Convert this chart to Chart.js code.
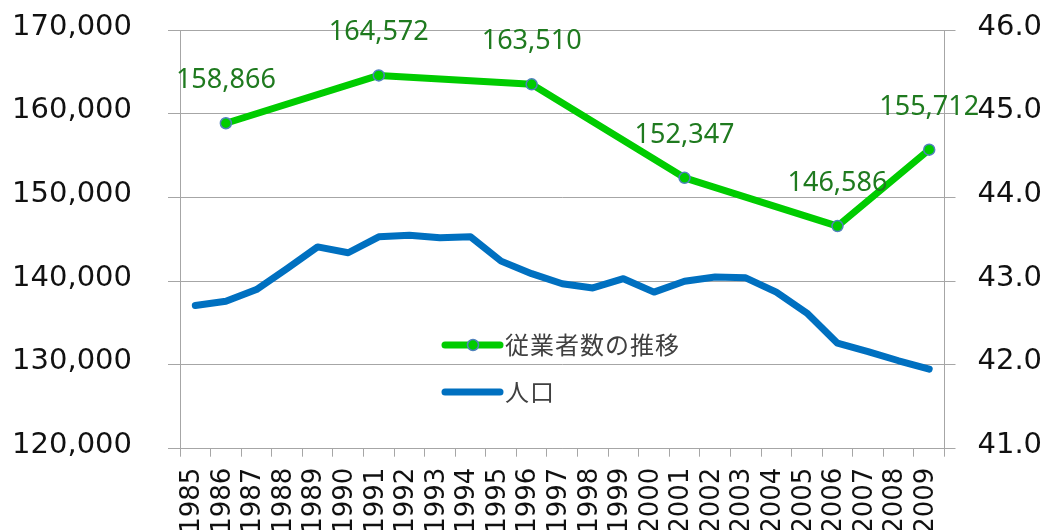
<!DOCTYPE html>
<html>
<head>
<meta charset="utf-8">
<script src="https://cdn.jsdelivr.net/npm/chart.js@4"></script>
<style>
    html, body { margin: 0; padding: 0; background: #fff; }
    #wrap { width: 1050px; height: 530px; }
</style>
</head>
<body>
<div id="wrap"><canvas id="chart" width="1050" height="530"></canvas></div>
<script>
// Data
const years = ['1985', '1986', '1987', '1988', '1989', '1990', '1991', '1992', '1993', '1994',
    '1995', '1996', '1997', '1998', '1999', '2000', '2001', '2002', '2003', '2004',
    '2005', '2006', '2007', '2008', '2009'];

// 従業者数 (left axis) - census years only
const workers = [null, 158866, null, null, null, null, 164572, null, null, null,
    null, 163510, null, null, null, null, 152347, null, null, null,
    null, 146586, null, null, 155712];

// 人口 (right axis)
const population = [42.71, 42.76, 42.90, 43.15, 43.41, 43.34, 43.53, 43.55, 43.52, 43.53,
    43.24, 43.09, 42.97, 42.92, 43.03, 42.87, 43.00, 43.05, 43.04, 42.87,
    42.62, 42.26, 42.16, 42.05, 41.95];

const seriesNames = ['従業者数の推移', '人口'];
const leftTicks = [120000, 130000, 140000, 150000, 160000, 170000];
const rightTicks = [41, 42, 43, 44, 45, 46];

const GREEN = '#00cc00';
const BLUE = '#0070c0';
const GRID = '#a6a6a6';
const LABEL_GREEN = '#1f7a1f';

// Value labels above the green points
const valueLabels = {
    id: 'valueLabels',
    afterDatasetsDraw(chart) {
        const ctx = chart.ctx;
        const meta = chart.getDatasetMeta(0);
        ctx.save();
        ctx.font = '27px "Noto Sans"';
        ctx.fillStyle = LABEL_GREEN;
        ctx.textAlign = 'center';
        ctx.textBaseline = 'alphabetic';
        meta.data.forEach((pt, i) => {
            const v = workers[i];
            if (v === null) return;
            ctx.fillText(v.toLocaleString('en-US'), pt.x, pt.y - 35);
        });
        ctx.restore();
    }
};

// Legend drawn inside the plot area
const innerLegend = {
    id: 'innerLegend',
    afterDraw(chart) {
        const ctx = chart.ctx;
        const area = chart.chartArea;
        const x0 = area.left + 265;
        const y0 = area.top + 315;
        const rowGap = 47;
        ctx.save();
        chart.data.datasets.forEach((ds, i) => {
            const y = y0 + i * rowGap;
            ctx.strokeStyle = ds.borderColor;
            ctx.lineWidth = 7;
            ctx.lineCap = 'round';
            ctx.beginPath();
            ctx.moveTo(x0, y);
            ctx.lineTo(x0 + 55, y);
            ctx.stroke();
            if (ds.pointRadius > 0) {
                ctx.beginPath();
                ctx.arc(x0 + 28, y, ds.pointRadius, 0, Math.PI * 2);
                ctx.fillStyle = ds.pointBackgroundColor;
                ctx.fill();
                ctx.lineWidth = ds.pointBorderWidth;
                ctx.strokeStyle = ds.pointBorderColor;
                ctx.stroke();
            }
            ctx.font = '24px "Noto Sans CJK JP"';
            ctx.letterSpacing = '1px';
            ctx.fillStyle = '#404040';
            ctx.textAlign = 'left';
            ctx.textBaseline = 'middle';
            ctx.fillText(ds.label, x0 + 60, y);
        });
        ctx.restore();
    }
};

// keep the plot area where the reference has it
function noEdgePadding(scale) {
    scale.paddingTop = 0;
    scale.paddingBottom = 0;
    scale.paddingLeft = 0;
    scale.paddingRight = 0;
}

const ctx = document.getElementById('chart').getContext('2d');
const chart = new Chart(ctx, {
    type: 'line',
    data: {
        labels: years,
        datasets: [{
            label: seriesNames[0],
            data: workers,
            yAxisID: 'y',
            borderColor: GREEN,
            backgroundColor: GREEN,
            borderWidth: 7,
            borderJoinStyle: 'round',
            borderCapStyle: 'round',
            spanGaps: true,
            tension: 0,
            pointRadius: 5.5,
            pointBackgroundColor: GREEN,
            pointBorderColor: '#4f81bd',
            pointBorderWidth: 1.5
        }, {
            label: seriesNames[1],
            data: population,
            yAxisID: 'y1',
            borderColor: BLUE,
            backgroundColor: BLUE,
            borderWidth: 7,
            borderJoinStyle: 'round',
            borderCapStyle: 'round',
            tension: 0,
            pointRadius: 0
        }]
    },
    options: {
        responsive: false,
        animation: false,
        layout: { padding: { top: 30, left: 0, right: 0, bottom: 0 } },
        plugins: {
            legend: { display: false },
            tooltip: { enabled: false }
        },
        scales: {
            x: {
                offset: true,
                grid: {
                    offset: true,
                    drawOnChartArea: false,
                    color: GRID,
                    tickLength: 8
                },
                border: { color: GRID },
                ticks: {
                    autoSkip: false,
                    minRotation: 90,
                    maxRotation: 90,
                    padding: 11,
                    labelOffset: -3,
                    color: '#111',
                    font: { family: 'DejaVu Sans', size: 26 }
                },
                afterFit(scale) {
                    noEdgePadding(scale);
                    scale.height = 81.3;
                }
            },
            y: {
                position: 'left',
                min: leftTicks[0],
                max: leftTicks[leftTicks.length - 1],
                afterBuildTicks(scale) { scale.ticks = leftTicks.map(v => ({ value: v })); },
                grid: { color: GRID, tickLength: 12 },
                border: { color: GRID },
                ticks: {
                    padding: 36,
                    labelOffset: -3,
                    color: '#111',
                    font: { family: 'DejaVu Sans', size: 29 },
                    callback: v => v.toLocaleString('en-US')
                },
                afterFit(scale) {
                    noEdgePadding(scale);
                    scale.width = 180;
                }
            },
            y1: {
                position: 'right',
                min: rightTicks[0],
                max: rightTicks[rightTicks.length - 1],
                afterBuildTicks(scale) { scale.ticks = rightTicks.map(v => ({ value: v })); },
                grid: { drawOnChartArea: false, color: GRID, tickLength: 11 },
                border: { color: GRID },
                ticks: {
                    padding: 22,
                    labelOffset: -3,
                    color: '#111',
                    font: { family: 'DejaVu Sans', size: 29 },
                    callback: v => v.toFixed(1)
                },
                afterFit(scale) {
                    noEdgePadding(scale);
                    scale.width = 105.5;
                }
            }
        }
    },
    plugins: [valueLabels, innerLegend]
});
</script>
</body>
</html>
